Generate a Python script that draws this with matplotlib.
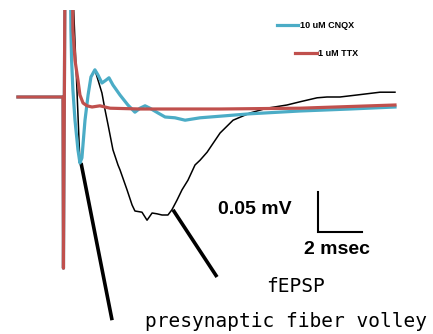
import matplotlib
matplotlib.use("Agg")
import matplotlib.pyplot as plt

# ---- data (time in ms, voltage in mV) ----
ctrl_t = [-2.05, -1.0, 0.0, 0.02, 0.1, 0.35, 0.77, 0.86, 1.0, 1.14, 1.27, 1.45,
          1.77, 1.91, 2.05, 2.27, 2.5, 2.59, 2.91, 3.14, 3.27, 3.59, 3.82, 4.05,
          4.27, 4.5, 4.77, 4.95, 5.18, 5.41, 5.68, 6.0, 6.23, 6.55, 6.77, 7.14,
          7.73, 8.5, 9.27, 10.18, 10.77, 11.55, 12.0, 12.59, 13.36, 14.41, 15.09]
ctrl_v = [0.0, 0.0, 0.0, -0.214, 0.2, 0.2, -0.0825, -0.076, -0.029, 0.0025, 0.025, 0.034,
          0.005, -0.016, -0.035, -0.066, -0.085, -0.091, -0.116, -0.135, -0.1425, -0.144, -0.154, -0.145,
          -0.146, -0.1475, -0.1475, -0.141, -0.129, -0.116, -0.104, -0.085, -0.079, -0.069, -0.06, -0.045,
          -0.029, -0.02, -0.014, -0.01, -0.006, -0.001, 0.0, 0.0, 0.0025, 0.006, 0.006]

cnqx_t = [-2.05, -1.0, 0.0, 0.02, 0.1, 0.32, 0.36, 0.39, 0.45, 0.545, 0.68, 0.77, 0.86,
          1.0, 1.14, 1.27, 1.45, 1.59, 1.77, 1.95, 2.09, 2.27, 2.59, 2.95, 3.27, 3.5,
          3.73, 3.95, 4.32, 4.64, 5.09, 5.55, 6.23, 8.5, 10.77, 13.05, 15.09]
cnqx_v = [0.0, 0.0, 0.0, -0.214, 0.2, 0.2, 0.084, 0.046, 0.009, -0.029, -0.066, -0.0825, -0.076,
          -0.029, 0.0025, 0.025, 0.034, 0.0275, 0.0175, 0.021, 0.024, 0.015, 0.0025, -0.01, -0.019, -0.014,
          -0.011, -0.014, -0.02, -0.025, -0.026, -0.029, -0.026, -0.021, -0.0175, -0.015, -0.0125]

ttx_t = [-2.05, -1.0, 0.0, 0.02, 0.1, 0.41, 0.45, 0.545, 0.68, 0.77, 0.91, 1.09, 1.32,
         1.68, 2.14, 3.5, 7.14, 10.77, 15.09]
ttx_v = [0.0, 0.0, 0.0, -0.214, 0.2, 0.2, 0.084, 0.046, 0.021, 0.0025, -0.0075, -0.011, -0.0125,
         -0.011, -0.014, -0.015, -0.015, -0.014, -0.01]

series_labels = ["10 uM CNQX", "1 uM TTX"]
scale_ms = 2.0
scale_mv = 0.05

RED = "#C0504D"
CYAN = "#4BACC6"

fig = plt.figure(figsize=(4.33, 3.34), dpi=100)
ax = fig.add_axes([0, 0, 1, 324 / 334])
ax.set_xlim(-63 / 22, 370 / 22)
ax.set_ylim(-237 / 800, 87 / 800)
ax.axis("off")

ax.plot(ctrl_t, ctrl_v, color="black", lw=1.1, zorder=2)
ax.plot(cnqx_t, cnqx_v, color=CYAN, lw=2.3, zorder=3)
ax.plot(ttx_t, ttx_v, color=RED, lw=2.3, zorder=4)

# legend (manual)
ax.plot([9.73, 10.68], [0.09, 0.09], color=CYAN, lw=2.3)
ax.text(10.77, 0.09, series_labels[0], fontsize=6.5, fontweight="bold",
        va="center", ha="left", family="Liberation Sans")
ax.plot([10.55, 11.55], [0.055, 0.055], color=RED, lw=2.3)
ax.text(11.59, 0.055, series_labels[1], fontsize=6.5, fontweight="bold",
        va="center", ha="left", family="Liberation Sans")

# scale bar
x0, y0 = 11.59, -0.16875
ax.plot([x0, x0, x0 + scale_ms], [y0 + scale_mv, y0, y0], color="black", lw=1.5,
        solid_joinstyle="miter")
ax.text(8.73, -0.141, "0.05 mV", fontsize=14, fontweight="bold", ha="center",
        va="center", family="Liberation Sans")
ax.text(12.45, -0.19, "2 msec", fontsize=14, fontweight="bold", ha="center",
        va="center", family="Liberation Sans")

# annotation pointers
ax.plot([0.82, 2.23], [-0.0825, -0.279], color="black", lw=2.6, clip_on=False,
        solid_capstyle="butt")
ax.plot([5.0, 7.0], [-0.141, -0.225], color="black", lw=2.6, clip_on=False,
        solid_capstyle="butt")
ax.text(10.59, -0.2375, "fEPSP", fontsize=14, ha="center", va="center",
        family="DejaVu Sans Mono", clip_on=False)
ax.text(3.73, -0.281, "presynaptic fiber volley", fontsize=14, ha="left",
        va="center", family="DejaVu Sans Mono", clip_on=False)

fig.savefig("out.png", dpi=100)
